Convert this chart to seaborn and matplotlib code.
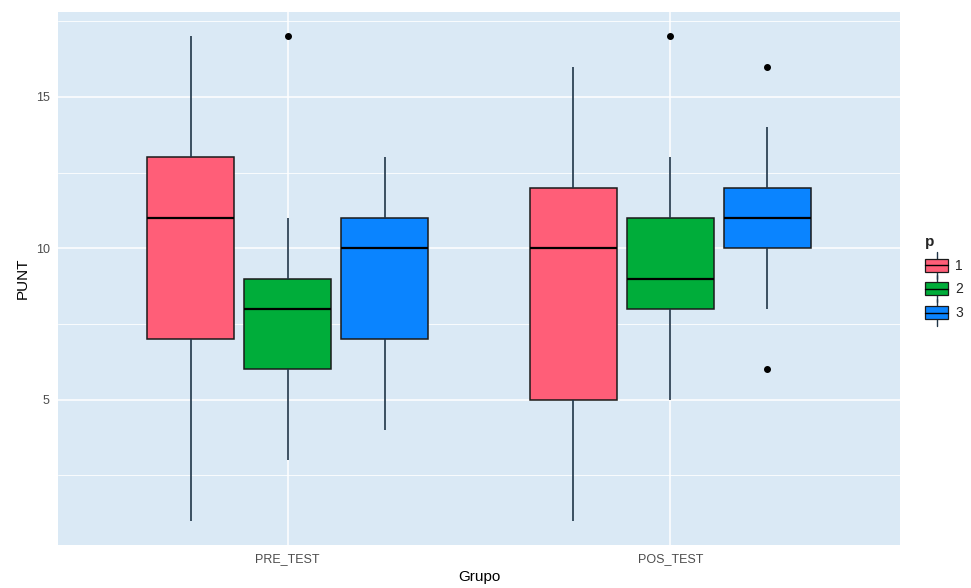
import numpy as np
import pandas as pd
import matplotlib
matplotlib.use("Agg")
import matplotlib.pyplot as plt
from matplotlib.patches import Patch, Rectangle
from matplotlib.lines import Line2D
from matplotlib.legend_handler import HandlerBase
from matplotlib.ticker import MultipleLocator
import seaborn as sns

# Scores (PUNT) by test phase and level p
grupos = ["PRE_TEST", "POS_TEST"]
niveles = ["1", "2", "3"]
pre_p1 = [1, 7, 11, 13, 17]
pre_p2 = [3, 5, 6, 7, 8, 8, 9, 11, 17]
pre_p3 = [4, 7, 10, 11, 13]
pos_p1 = [1, 5, 10, 12, 16]
pos_p2 = [5, 7, 8, 9, 9, 10, 11, 13, 17]
pos_p3 = [6, 8, 10, 11, 11, 11, 12, 14, 16]
colores = ["#FF5E78", "#00AD3A", "#0A84FF"]

rows = []
for g, series in zip(grupos, [[pre_p1, pre_p2, pre_p3], [pos_p1, pos_p2, pos_p3]]):
    for p, vals in zip(niveles, series):
        for v in vals:
            rows.append({"Grupo": g, "p": p, "PUNT": v})
df = pd.DataFrame(rows)

sns.set_theme(style="white")
plt.rcParams["font.family"] = ["Liberation Sans", "DejaVu Sans"]

fig = plt.figure(figsize=(9.71, 5.88), dpi=100)
ax = fig.add_axes([58 / 971, 1 - 545 / 588, (900 - 58) / 971, (545 - 12) / 588])
ax.set_facecolor("#DAE9F5")

sns.boxplot(
    data=df, x="Grupo", y="PUNT", hue="p", order=grupos, hue_order=niveles,
    palette=colores, width=0.76, gap=0.1, saturation=1, linewidth=1.1,
    linecolor="#1a1a1a", whis=1.5, legend=False, ax=ax,
    whiskerprops=dict(color="#1F3548", linewidth=1.2),
    capprops=dict(linewidth=0),
    medianprops=dict(color="black", linewidth=1.6),
    flierprops=dict(marker="o", markersize=4, markerfacecolor="black",
                    markeredgecolor="black"),
    zorder=3,
)

ax.set_xlim(-0.6, 1.6)
ax.set_ylim(0.2, 17.8)
ax.yaxis.set_major_locator(MultipleLocator(5))
ax.yaxis.set_minor_locator(MultipleLocator(2.5))
ax.grid(True, which="major", color="white", linewidth=1.1, zorder=0)
ax.grid(True, which="minor", axis="y", color="white", linewidth=0.6, zorder=0)
ax.set_axisbelow(True)
for s in ax.spines.values():
    s.set_visible(False)

ax.tick_params(axis="both", which="major", length=3, width=0.8, color="#333333",
               labelsize=9, labelcolor="#4D4D4D", pad=3)
ax.tick_params(axis="both", which="minor", length=0)
ax.set_xlabel("Grupo", fontsize=11, color="black", labelpad=3)
ax.set_ylabel("PUNT", fontsize=11, color="black", labelpad=4)


class BoxKeyHandler(HandlerBase):
    """Legend key drawn as a small boxplot glyph."""

    def create_artists(self, legend, orig_handle, xdescent, ydescent,
                       width, height, fontsize, trans):
        cx = -xdescent + width / 2
        whisk = Line2D([cx, cx], [-ydescent - height * 0.35, -ydescent + height * 1.35],
                       color="#1F3548", linewidth=1.0, transform=trans)
        box = Rectangle((-xdescent, -ydescent + height * 0.1), width, height * 0.8,
                        facecolor=orig_handle.get_facecolor(),
                        edgecolor="#1a1a1a", linewidth=0.9, transform=trans)
        med = Line2D([-xdescent, -xdescent + width], [-ydescent + height / 2] * 2,
                     color="black", linewidth=1.0, transform=trans)
        return [whisk, box, med]


handles = [Patch(facecolor=c) for c in colores]
leg = fig.legend(handles, niveles, title="p", loc="center left",
                 bbox_to_anchor=(915 / 971, 1 - 278 / 588), frameon=False,
                 fontsize=10, title_fontsize=11, handlelength=1.7,
                 handleheight=1.4, labelspacing=0.55, handletextpad=0.5,
                 borderpad=0.2, handler_map={Patch: BoxKeyHandler()})
leg.get_title().set_fontweight("bold")
leg._legend_box.align = "left"

fig.savefig("out.png", dpi=100)
